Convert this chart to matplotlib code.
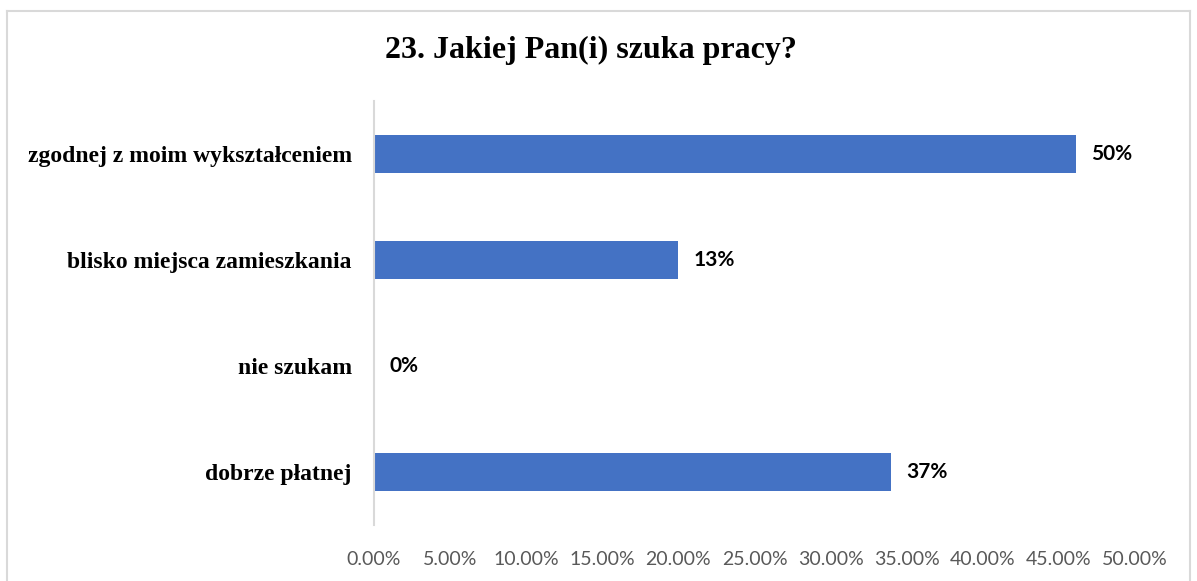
import matplotlib.pyplot as plt
from matplotlib.lines import Line2D

# categories, top to bottom
categories = ['zgodnej z moim wykształceniem', 'blisko miejsca zamieszkania',
              'nie szukam', 'dobrze płatnej']
# bar lengths as drawn against the axis (percent)
bar_values = [46.1, 20.0, 0.0, 34.0]
# data labels as printed on the chart
value_labels = ['50%', '13%', '0%', '37%']
ticks = [0, 5, 10, 15, 20, 25, 30, 35, 40, 45, 50]

fig = plt.figure(figsize=(11.97, 5.81), dpi=100)
ax = fig.add_axes([374/1197, 1 - 525/581, (1135 - 374)/1197, (525 - 101)/581])

y = list(range(len(categories)))[::-1]
ax.barh(y, bar_values, height=0.35, color='#4472C4')

for yi, v, lab in zip(y, bar_values, value_labels):
    ax.text(v + 1.0, yi, lab, va='center', ha='left', fontsize=15,
            fontweight='bold', family='Lato', color='black')

ax.set_xlim(0, 50)
ax.set_ylim(-0.5, 3.5)
ax.set_xticks(ticks)
ax.set_xticklabels(['%.2f%%' % t for t in ticks], fontsize=14, family='Lato', color='#595959')
ax.set_yticks(y)
ax.set_yticklabels(categories, fontsize=17, fontweight='bold', family='Liberation Serif')
ax.tick_params(axis='x', length=0, pad=19)
ax.tick_params(axis='y', length=0, pad=16)

for s in ['top', 'right', 'bottom']:
    ax.spines[s].set_visible(False)
ax.spines['left'].set_color('#D9D9D9')
ax.spines['left'].set_linewidth(1.5)

fig.text(591/1197, 1 - 50/581, '23. Jakiej Pan(i) szuka pracy?', ha='center', va='center',
         fontsize=23, fontweight='bold', family='Liberation Serif')

# chart border
bc = '#D9D9D9'
fig.add_artist(Line2D([7/1197, 7/1197], [0, 1 - 11/581], color=bc, lw=1.5))
fig.add_artist(Line2D([7/1197, 1190/1197], [1 - 11/581, 1 - 11/581], color=bc, lw=1.5))
fig.add_artist(Line2D([1190/1197, 1190/1197], [0, 1 - 11/581], color=bc, lw=1.5))

fig.savefig('out.png', dpi=100)
